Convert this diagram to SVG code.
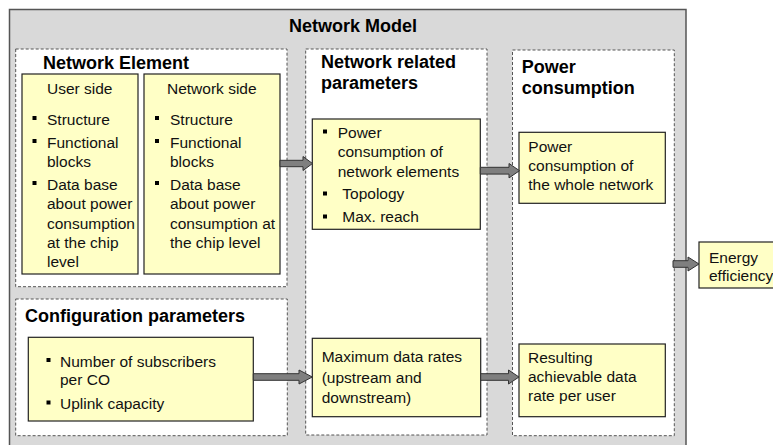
<svg xmlns="http://www.w3.org/2000/svg" width="773" height="445" viewBox="0 0 773 445">
<style>
.outer{fill:#d9d9d9;stroke:#555;stroke-width:1.5}
.dash{fill:#fff;stroke:#555;stroke-width:1;stroke-dasharray:3,2}
.box{fill:#ffffc6;stroke:#222;stroke-width:1.2}
.h{font-family:"Liberation Sans",Arial,sans-serif;font-weight:bold;font-size:18px;fill:#000}
.t{font-family:"Liberation Sans",Arial,sans-serif;font-size:15.5px;fill:#111}
.b{fill:#000}
.arr{fill:#7f7f7f;stroke:#333;stroke-width:1}
</style>
<rect width="773" height="445" fill="#fff"/>
<g id="network-model">
<rect class="outer" x="9.5" y="9.5" width="676.5" height="450"/>
<text class="h" x="353" y="32" text-anchor="middle">Network Model</text>
</g>
<g id="network-element">
<rect class="dash" x="15.7" y="49" width="271.3" height="237.7"/>
<text class="h" x="43" y="69">Network Element</text>
</g>
<g id="user-side">
<rect class="box" x="22" y="74" width="116" height="200"/>
<text class="t" x="47" y="94">User side</text>
<rect class="b" x="32.5" y="116" width="4" height="4"/>
<text class="t" x="47" y="125">Structure</text>
<rect class="b" x="32.5" y="139" width="4" height="4"/>
<text class="t" x="47" y="148">Functional</text>
<text class="t" x="47" y="167">blocks</text>
<rect class="b" x="32.5" y="181" width="4" height="4"/>
<text class="t" x="47" y="190">Data base</text>
<text class="t" x="47" y="209">about power</text>
<text class="t" x="47" y="228.5">consumption</text>
<text class="t" x="47" y="247.5">at the chip</text>
<text class="t" x="47" y="266.5">level</text>
</g>
<g id="network-side">
<rect class="box" x="144" y="74" width="136" height="200"/>
<text class="t" x="167" y="94">Network side</text>
<rect class="b" x="155" y="116" width="4" height="4"/>
<text class="t" x="170" y="125">Structure</text>
<rect class="b" x="155" y="139" width="4" height="4"/>
<text class="t" x="170" y="148">Functional</text>
<text class="t" x="170" y="167">blocks</text>
<rect class="b" x="155" y="181" width="4" height="4"/>
<text class="t" x="170" y="190">Data base</text>
<text class="t" x="170" y="209">about power</text>
<text class="t" x="170" y="228.5">consumption at</text>
<text class="t" x="170" y="247.5">the chip level</text>
</g>
<g id="network-related-parameters">
<rect class="dash" x="305.7" y="49" width="181.3" height="386"/>
<text class="h" x="321" y="68">Network related</text>
<text class="h" x="321" y="89">parameters</text>
</g>
<g id="nrp-box">
<rect class="box" x="312.3" y="119" width="168" height="110.3"/>
<rect class="b" x="323" y="129.5" width="4" height="4"/>
<text class="t" x="337.7" y="138.3">Power</text>
<text class="t" x="337.7" y="157">consumption of</text>
<text class="t" x="337.7" y="176.5">network elements</text>
<rect class="b" x="323" y="191.5" width="4" height="4"/>
<text class="t" x="342.3" y="199.3">Topology</text>
<rect class="b" x="323" y="214.5" width="4" height="4"/>
<text class="t" x="342.3" y="221.7">Max. reach</text>
</g>
<g id="power-consumption">
<rect class="dash" x="512.5" y="50" width="161.8" height="385.7"/>
<text class="h" x="521.7" y="72.5">Power</text>
<text class="h" x="521.7" y="94">consumption</text>
</g>
<g id="pc-box">
<rect class="box" x="519" y="132.3" width="146.3" height="71"/>
<text class="t" x="528.3" y="151.7">Power</text>
<text class="t" x="528.3" y="170.7">consumption of</text>
<text class="t" x="528.3" y="189.5">the whole network</text>
</g>
<g id="configuration-parameters">
<rect class="dash" x="15.7" y="299" width="271.6" height="136.7"/>
<text class="h" x="25" y="322">Configuration parameters</text>
</g>
<g id="config-box">
<rect class="box" x="28.3" y="337.3" width="225" height="83.7"/>
<rect class="b" x="46.5" y="358" width="4" height="4"/>
<text class="t" x="60" y="366.7">Number of subscribers</text>
<text class="t" x="60" y="385">per CO</text>
<rect class="b" x="46.5" y="400.5" width="4" height="4"/>
<text class="t" x="60" y="409">Uplink capacity</text>
</g>
<g id="max-data-rates">
<rect class="box" x="312.3" y="338.3" width="168.4" height="78.4"/>
<text class="t" x="321.7" y="362.3">Maximum data rates</text>
<text class="t" x="321.7" y="383.3">(upstream and</text>
<text class="t" x="321.7" y="402.7">downstream)</text>
</g>
<g id="resulting-rate">
<rect class="box" x="519" y="344" width="146.3" height="72.7"/>
<text class="t" x="528" y="363.3">Resulting</text>
<text class="t" x="528" y="382.3">achievable data</text>
<text class="t" x="528" y="401">rate per user</text>
</g>
<g id="energy-efficiency">
<rect class="box" x="699" y="242" width="85" height="46"/>
<text class="t" x="709" y="262.7">Energy</text>
<text class="t" x="709" y="280.7">efficiency</text>
</g>
<g id="connectors">
<polygon class="arr" points="280,160.3 303,160.3 303,156.5 312.5,163.5 303,170.5 303,166.7 280,166.7"/>
<polygon class="arr" points="480.3,167.3 509,167.3 509,163.5 519.5,170.7 509,177.9 509,174.1 480.3,174.1"/>
<polygon class="arr" points="253.3,373.7 299,373.7 299,370 312.3,377 299,384 299,380.3 253.3,380.3"/>
<polygon class="arr" points="480.7,373.7 508.5,373.7 508.5,370 519,377 508.5,384 508.5,380.3 480.7,380.3"/>
<polygon class="arr" points="673,260.7 688,260.7 688,257 699,264 688,271 688,267.3 673,267.3"/>
</g>
</svg>
